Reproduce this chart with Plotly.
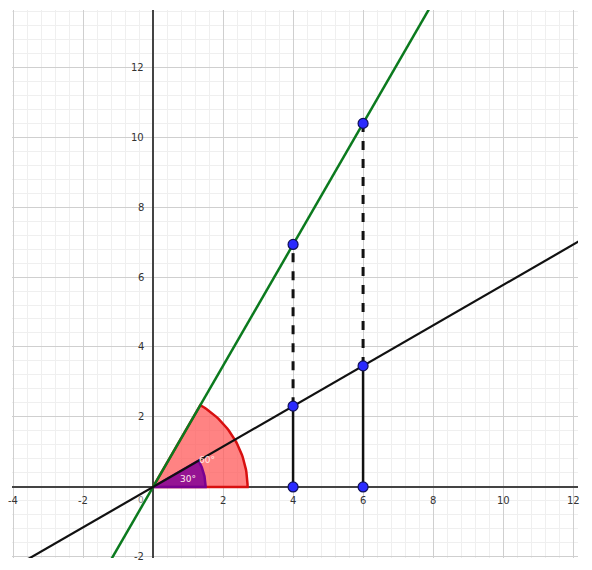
import numpy as np
import plotly.graph_objects as go

# data
x_ticks = [-4, -2, 2, 4, 6, 8, 10, 12]
y_ticks = [-2, 2, 4, 6, 8, 10, 12]
line_slopes = {"black": 0.577, "green": 1.732}
line_x_span = {"black": [-4.2, 12.3], "green": [-1.3, 7.9]}
foot_x = [4, 6]
black_y = [2.31, 3.46]
green_y = [6.93, 10.39]
sector_angles = [60, 30]
sector_radii = [2.7, 1.5]
sector_labels = ["60°", "30°"]

fig = go.Figure()

# angle sectors
sector_fill = ["rgba(255,90,90,0.75)", "rgba(130,0,150,0.85)"]
sector_edge = ["#d81010", "#7a0090"]
for ang, rad, fc, ec in zip(sector_angles, sector_radii, sector_fill, sector_edge):
    t = np.radians(np.linspace(0, ang, 40))
    xs = np.concatenate([[0], rad * np.cos(t), [0]])
    ys = np.concatenate([[0], rad * np.sin(t), [0]])
    fig.add_trace(go.Scatter(x=xs, y=ys, mode="lines", fill="toself",
                             fillcolor=fc, line=dict(color=ec, width=2.5),
                             hoverinfo="skip"))

# the two lines through the origin
for name, col, w in [("green", "#0b7a1e", 2.5), ("black", "#111111", 2.2)]:
    xs = np.array(line_x_span[name])
    fig.add_trace(go.Scatter(x=xs, y=line_slopes[name] * xs, mode="lines",
                             line=dict(color=col, width=w), hoverinfo="skip"))

# vertical segments
for xf, yb, yg in zip(foot_x, black_y, green_y):
    fig.add_trace(go.Scatter(x=[xf, xf], y=[0, yb], mode="lines",
                             line=dict(color="#111111", width=2.5)))
    fig.add_trace(go.Scatter(x=[xf, xf], y=[yb, yg], mode="lines",
                             line=dict(color="#111111", width=3, dash="dash")))

# points
px = foot_x * 3
py = [0] * len(foot_x) + black_y + green_y
fig.add_trace(go.Scatter(x=px, y=py, mode="markers",
                         marker=dict(size=10, color="#2a2aff",
                                     line=dict(color="#10105a", width=1.2))))

# angle labels
label_pos = [(1.55, 0.78), (1.0, 0.24)]
for txt, (lx, ly) in zip(sector_labels, label_pos):
    fig.add_annotation(x=lx, y=ly, text=txt, showarrow=False,
                       font=dict(size=9, color="#ffe8e8", family="DejaVu Sans"))

# GeoGebra style tick labels on the axes
for v in x_ticks:
    fig.add_annotation(x=v, y=-0.38, text=str(v), showarrow=False,
                       font=dict(size=10, color="#333333", family="DejaVu Sans"))
for v in y_ticks:
    fig.add_annotation(x=-0.2, y=v, text=str(v), showarrow=False, xanchor="right",
                       font=dict(size=10, color="#333333", family="DejaVu Sans"))
fig.add_annotation(x=-0.2, y=-0.38, text="0", showarrow=False, xanchor="right",
                   font=dict(size=9, color="#888888", family="DejaVu Sans"))

axis_common = dict(showticklabels=False, ticks="", showline=False,
                   zeroline=True, zerolinecolor="#444444", zerolinewidth=2.2,
                   showgrid=True, gridcolor="#cfcfcf", gridwidth=1.2, dtick=2,
                   minor=dict(dtick=0.4, showgrid=True, gridcolor="#efefef", gridwidth=1))

fig.update_layout(
    width=584, height=562,
    margin=dict(l=4, r=14, t=2, b=12),
    paper_bgcolor="white", plot_bgcolor="white",
    showlegend=False,
    xaxis=dict(range=[-4.03, 12.14], **axis_common),
    yaxis=dict(range=[-2.03, 13.63], **axis_common),
)

fig.write_html("out.html")
